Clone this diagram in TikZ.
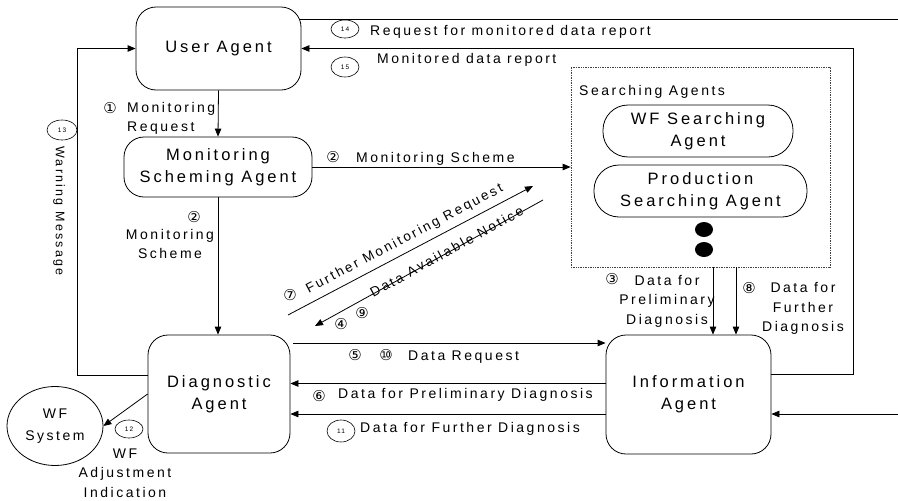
\documentclass[tikz,border=0pt]{standalone}
\usepackage{fontspec}
\setmainfont[LetterSpace=18]{Liberation Sans}
\newfontfamily\cfont{DejaVu Sans}
\usetikzlibrary{arrows.meta,shapes.geometric}
\begin{document}
\begin{tikzpicture}[x=1pt,y=-1pt,
  every node/.style={inner sep=0pt},
  ln/.style={line width=0.8pt},
  arr/.style={ln,-{Triangle[length=8pt,width=6.5pt]}},
  agentbox/.style={draw,ln,rounded corners=20pt,align=center,font=\fontsize{16.5}{22}\selectfont},
  searchbox/.style={draw,ln,rounded corners=25pt,align=center,font=\fontsize{16.5}{22}\selectfont},
  lbl/.style={font=\fontsize{14}{19.5}\selectfont},
  dlbl/.style={font=\fontsize{13.5}{16}\selectfont},
  num/.style={font=\cfont\fontsize{15}{15}\selectfont},
  cnum/.style={draw,line width=0.6pt,ellipse,minimum width=28pt,minimum height=19pt,font=\fontsize{6.5}{7}\selectfont},
]
\useasboundingbox (0,0) rectangle (898,501);

% agents
\node[agentbox,minimum width=165pt,minimum height=83pt] (ua) at (218.5,48.5) {User Agent};
\node[agentbox,minimum width=188pt,minimum height=60pt] (msa) at (218,167) {Monitoring\\Scheming Agent};
\node[agentbox,minimum width=142pt,minimum height=118pt] (da) at (219,394) {Diagnostic\\Agent};
\node[agentbox,minimum width=165pt,minimum height=119pt] (ia) at (688.5,394.5) {Information\\Agent};
\node[draw,ln,ellipse,minimum width=96pt,minimum height=79pt,align=center,font=\fontsize{14}{22}\selectfont] (wf) at (55,426) {WF\\System};

% searching agents group
\node[draw=black!75,densely dotted,line width=0.7pt,minimum width=259pt,minimum height=200pt] (sa) at (700.5,167) {};
\node[lbl,anchor=base west] (salbl) at (579,95) {Searching Agents};
\node[searchbox,minimum width=190pt,minimum height=52pt] (wfs) at (698,131) {WF Searching\\Agent};
\node[searchbox,minimum width=213pt,minimum height=52pt] (pds) at (700.5,191) {Production\\Searching Agent};
\node[ellipse,fill=black,minimum width=18pt,minimum height=15pt] (dot1) at (704,229.5) {};
\node[ellipse,fill=black,minimum width=18pt,minimum height=15pt] (dot2) at (704,249.5) {};

% connectors
\draw[arr] (ua.south) -- (msa.north);
\draw[arr] (msa.east) -- (msa.east -| sa.west);
\draw[arr] (msa.south) -- (msa.south |- da.north);
\coordinate (wmc) at (77,48.5);
\draw[arr] ([yshift=19pt]da.west) -| (wmc) -- (ua.west);
\coordinate (r14) at (898,19);
\draw[ln] ([xshift=-2pt]ua.east |- r14) -- (r14);
\coordinate (r15) at (853,48.5);
\draw[arr] ([yshift=20.5pt]ia.east) -| (r15) -- (ua.east);
\coordinate (r16) at (898,414);
\draw[arr] (r16) -- (r16 -| ia.east);
\draw[arr] ([xshift=3pt,yshift=51pt]da.east) -- ([yshift=51pt]da.east -| ia.west);
\draw[arr] ([yshift=11pt]ia.west) -- ([yshift=11pt]ia.west -| da.east);
\draw[arr] ([yshift=-19.5pt]ia.west) -- ([yshift=-19.5pt]ia.west -| da.east);
\draw[arr] (da.west) -- (wf.east);
\draw[arr] ([xshift=12.5pt]sa.south) -- ([xshift=12.5pt]sa.south |- ia.north);
\draw[arr] ([xshift=35.5pt]sa.south) -- ([xshift=35.5pt]sa.south |- ia.north);

\coordinate (f1) at (288,315);
\coordinate (f2) at (533,186);
\draw[arr] (f1) -- (f2) node[dlbl,midway,sloped,above=6pt] (fmr) {Further Monitoring Request};
\coordinate (d1) at (543,200);
\coordinate (d2) at (315,326);
\draw[arr] (d1) -- (d2) node[dlbl,pos=0.42,sloped,above=-4pt] (dan) {Data Available Notice};

% labels
\node[num] (n1) at (110,108) {①};
\node[lbl,anchor=west,align=left] (l1) at (127,118.5) {Monitoring\\Request};
\node[num] (n2a) at (333,157) {②};
\node[lbl,anchor=base west] (l2a) at (356,162) {Monitoring Scheme};
\node[num] (n2b) at (194,217) {②};
\node[lbl,align=center] (l2b) at (170,244) {Monitoring\\Scheme};
\node[cnum,minimum width=30pt,minimum height=20pt] (c13) at (62,130) {13};
\node[font=\fontsize{12.5}{14}\selectfont,rotate=-90] (l13) at (59,211) {Warning Message};
\node[cnum,minimum height=18pt] (c14) at (345,29) {14};
\node[lbl,anchor=base west] (l14) at (370,35) {Request for monitored data report};
\node[cnum,minimum height=20pt] (c15) at (345,67) {15};
\node[lbl,anchor=base west] (l15) at (377,63) {Monitored data report};
\node[num] (n7) at (290,295) {⑦};
\node[num] (n4) at (341,324) {④};
\node[num] (n9) at (362,313) {⑨};
\node[num] (n5) at (355,355) {⑤};
\node[num] (n10) at (386,355) {⑩};
\node[lbl,anchor=base west] (l5) at (408,360) {Data Request};
\node[num] (n6) at (319,396) {⑥};
\node[lbl,anchor=base west] (l6) at (338,398) {Data for Preliminary Diagnosis};
\node[cnum,minimum height=22pt] (c11) at (341,431) {11};
\node[lbl,anchor=base west] (l11) at (360,432) {Data for Further Diagnosis};
\node[cnum,minimum height=18pt] (c12) at (129,429) {12};
\node[lbl,align=center] (l12) at (125,473) {WF\\Adjustment\\Indication};
\node[num] (n3) at (612,279) {③};
\node[lbl,align=center] (l3) at (667,301) {Data for\\Preliminary\\Diagnosis};
\node[num] (n8) at (749,288) {⑧};
\node[lbl,align=center] (l8) at (803,308.5) {Data for\\Further\\Diagnosis};
\end{tikzpicture}
\end{document}
